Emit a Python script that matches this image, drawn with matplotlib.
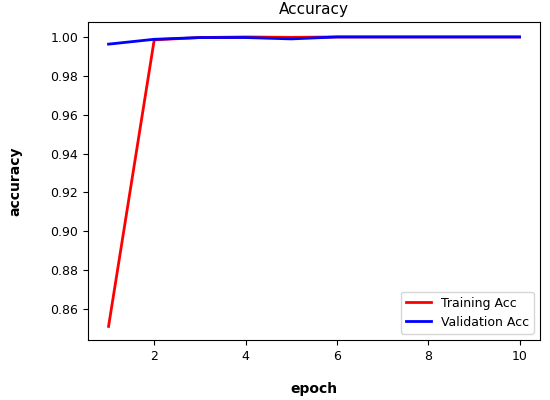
import matplotlib.pyplot as plt

epochs = [1, 2, 3, 4, 5, 6, 7, 8, 9, 10]
train_acc = [0.851, 0.9985, 0.9997, 1.0, 0.9998, 1.0, 1.0, 1.0, 1.0, 1.0]
val_acc = [0.9963, 0.9988, 0.9997, 0.9997, 0.9990, 1.0, 1.0, 1.0, 1.0, 1.0]

fig, ax = plt.subplots(figsize=(5.5, 4), dpi=100)
fig.subplots_adjust(left=0.16, right=0.982, top=0.945, bottom=0.15)

ax.plot(epochs, train_acc, color='red', linewidth=2, label='Training Acc')
ax.plot(epochs, val_acc, color='blue', linewidth=2, label='Validation Acc')

ax.set_title('Accuracy', fontsize=11)
ax.set_xlabel('epoch', fontsize=10, fontweight='bold', labelpad=14)
ax.set_ylabel('accuracy', fontsize=10, fontweight='bold', labelpad=20)
ax.set_xticks([2, 4, 6, 8, 10])
ax.set_yticks([0.86, 0.88, 0.90, 0.92, 0.94, 0.96, 0.98, 1.00])
ax.set_ylim(0.844, 1.0077)
ax.tick_params(labelsize=9)
ax.legend(loc='lower right', fontsize=9)

plt.savefig('out.png', dpi=100)
